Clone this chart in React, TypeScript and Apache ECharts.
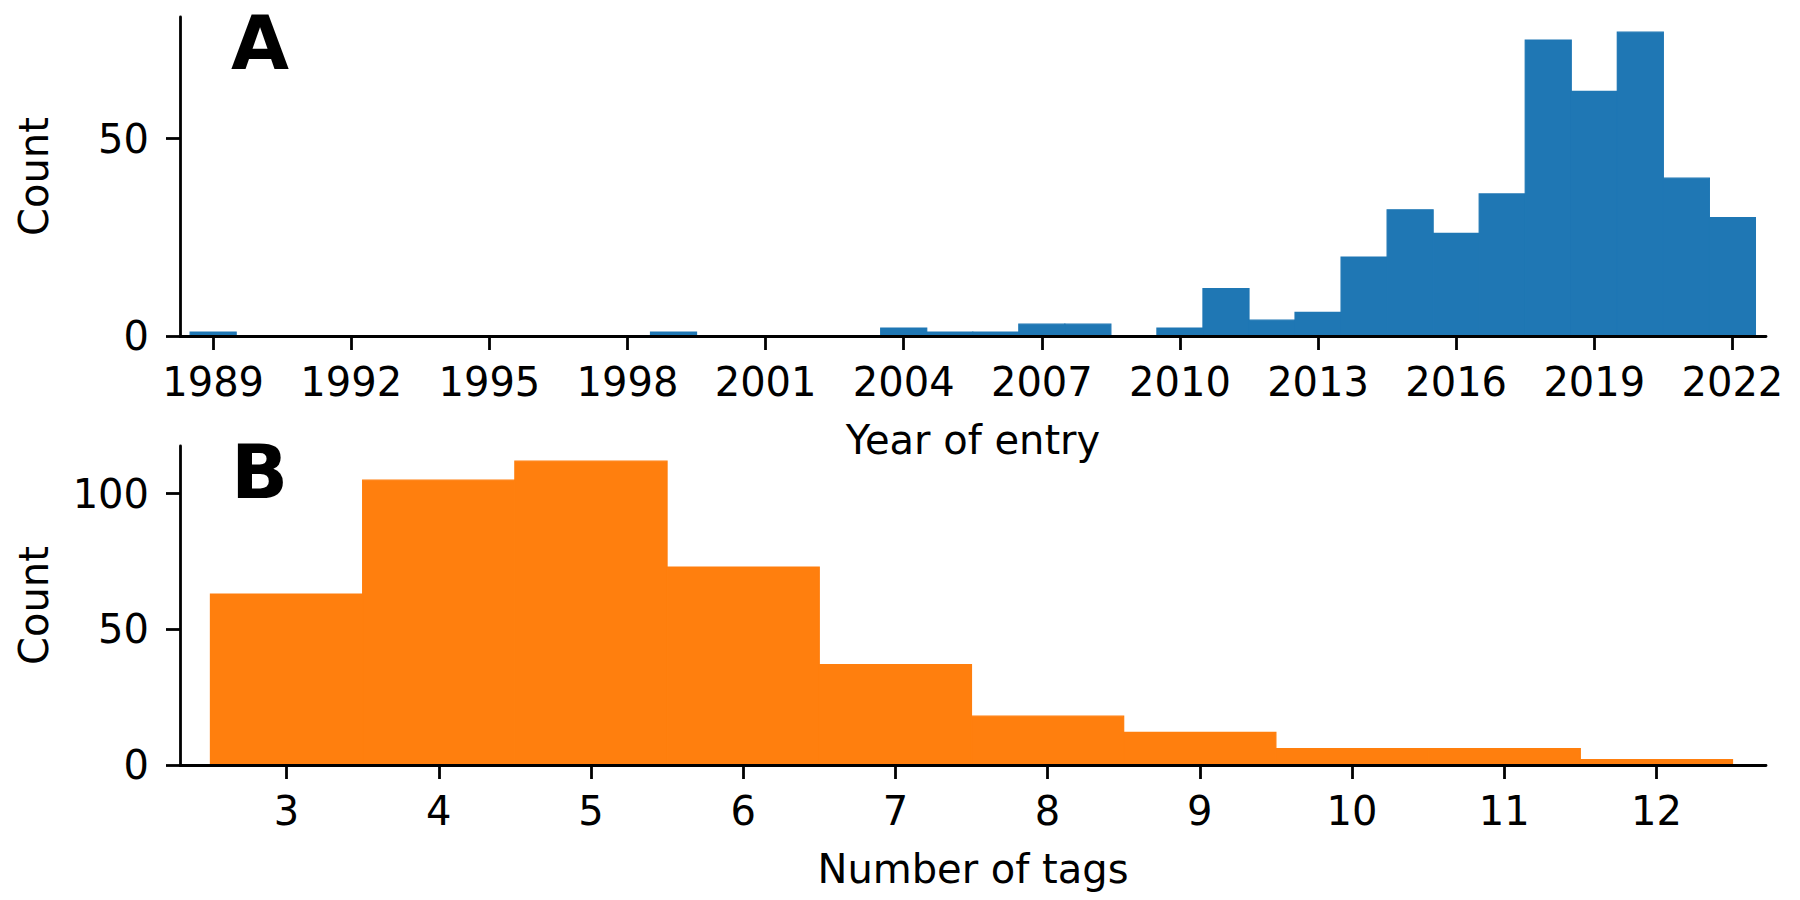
import React, { useEffect, useRef } from "react";
import * as echarts from "echarts";

// Panel A: year of entry histogram (bins of one year, centred on the year)
const yearsA = [1989, 1999, 2004, 2005, 2006, 2007, 2008, 2010, 2011, 2012, 2013, 2014, 2015, 2016, 2017, 2018, 2019, 2020, 2021, 2022];
const countsA = [1, 1, 2, 1, 1, 3, 3, 2, 12, 4, 6, 20, 32, 26, 36, 75, 62, 77, 40, 30];
const yearTicks = [1989, 1992, 1995, 1998, 2001, 2004, 2007, 2010, 2013, 2016, 2019, 2022];
const countTicksA = [0, 50];

// Panel B: number of tags histogram
const tagsB = [3, 4, 5, 6, 7, 8, 9, 10, 11, 12];
const countsB = [63, 105, 112, 73, 37, 18, 12, 6, 6, 2];
const tagTicks = [3, 4, 5, 6, 7, 8, 9, 10, 11, 12];
const countTicksB = [0, 50, 100];

const BIN_WIDTH = 1;
const BLUE = "#1f77b4";
const ORANGE = "#ff7f0e";
const FONT = "DejaVu Sans";

export default function App() {
  const ref = useRef<HTMLDivElement>(null);

  useEffect(() => {
    if (!ref.current) return;
    const chart = echarts.init(ref.current, undefined, { renderer: "svg" });

    const histItem = (color: string) => (params: any, api: any) => {
      const x = api.value(0);
      const y = api.value(1);
      const p0 = api.coord([x - BIN_WIDTH / 2, y]);
      const p1 = api.coord([x + BIN_WIDTH / 2, 0]);
      return {
        type: "rect",
        shape: { x: p0[0], y: p0[1], width: p1[0] - p0[0], height: p1[1] - p0[1] },
        style: { fill: color, stroke: color, lineWidth: 1.2 },
      };
    };

    const axisLineStyle = { color: "#000", width: 2.8 };
    const labelStyle = { color: "#000", fontSize: 40, fontFamily: FONT };

    const xAxisBase = (gridIndex: number, min: number, max: number, ticks: number[], name: string) => ({
      type: "value",
      gridIndex,
      min,
      max,
      z: 5,
      name,
      nameLocation: "middle",
      nameGap: 84,
      nameTextStyle: { color: "#000", fontSize: 40, fontFamily: FONT },
      axisLine: { show: true, onZero: false, lineStyle: axisLineStyle },
      axisTick: { show: true, length: 14, customValues: ticks, lineStyle: { color: "#000", width: 2.8 } },
      axisLabel: { show: true, margin: 26, customValues: ticks, formatter: (v: number) => String(v), ...labelStyle },
      splitLine: { show: false },
    });

    const yAxisBase = (gridIndex: number, max: number, ticks: number[]) => ({
      type: "value",
      gridIndex,
      min: 0,
      max,
      z: 5,
      name: "Count",
      nameLocation: "middle",
      nameGap: 126,
      nameTextStyle: { color: "#000", fontSize: 40, fontFamily: FONT },
      axisLine: { show: true, lineStyle: axisLineStyle },
      axisTick: { show: true, length: 14, customValues: ticks, lineStyle: { color: "#000", width: 2.8 } },
      axisLabel: { show: true, margin: 31, customValues: ticks, formatter: (v: number) => String(v), ...labelStyle },
      splitLine: { show: false },
    });

    chart.setOption({
      animation: false,
      backgroundColor: "#fff",
      grid: [
        { left: 180, right: 34, top: 17, height: 319 },
        { left: 180, right: 34, top: 446, height: 319 },
      ],
      xAxis: [
        xAxisBase(0, 1988.28, 2022.73, yearTicks, "Year of entry"),
        xAxisBase(1, 2.3, 12.72, tagTicks, "Number of tags"),
      ],
      yAxis: [
        yAxisBase(0, Math.max(...countsA) * 1.05, countTicksA),
        yAxisBase(1, Math.max(...countsB) * 1.05, countTicksB),
      ],
      series: [
        {
          type: "custom",
          xAxisIndex: 0,
          yAxisIndex: 0,
          renderItem: histItem(BLUE),
          data: yearsA.map((y, i) => [y, countsA[i]]),
        },
        {
          type: "custom",
          xAxisIndex: 1,
          yAxisIndex: 1,
          renderItem: histItem(ORANGE),
          data: tagsB.map((t, i) => [t, countsB[i]]),
        },
      ],
      graphic: [
        {
          type: "text",
          x: 231,
          y: 43,
          style: { text: "A", fill: "#000", font: `bold 75px "${FONT}"`, align: "left", verticalAlign: "middle" },
        },
        {
          type: "text",
          x: 231,
          y: 472,
          style: { text: "B", fill: "#000", font: `bold 75px "${FONT}"`, align: "left", verticalAlign: "middle" },
        },
      ],
    });

    return () => chart.dispose();
  }, []);

  return (
    <div
      ref={ref}
      style={{ position: "fixed", left: 0, top: 0, width: 1800, height: 900, background: "#fff" }}
    />
  );
}
